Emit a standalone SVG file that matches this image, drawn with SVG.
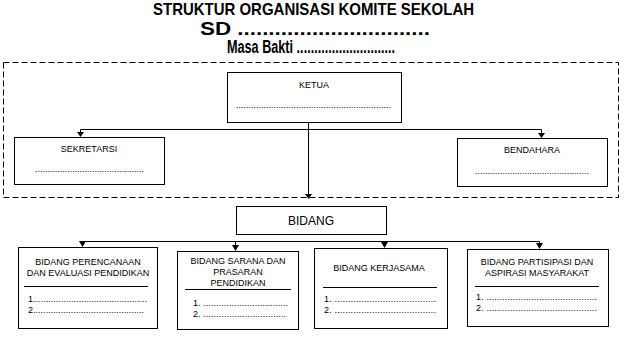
<svg xmlns="http://www.w3.org/2000/svg" width="627" height="337" viewBox="0 0 627 337">
<defs>
<style>
.box{fill:#fff;stroke:#000;stroke-width:1}
.t{font-family:"Liberation Sans",Arial,sans-serif;font-size:9px;fill:#000}
.d{font-family:"Liberation Sans",Arial,sans-serif;font-size:9px;fill:#000}
.c{text-anchor:middle}
.ln{stroke:#000;stroke-width:1;fill:none}
.title{font-family:"Liberation Sans",Arial,sans-serif;font-weight:bold;fill:#000}
.big{font-size:12px}
</style>
</defs>
<rect width="627" height="337" fill="#fff"/>
<g id="title">
<text class="title" x="153" y="15" style="font-size:17px" textLength="321" lengthAdjust="spacingAndGlyphs">STRUKTUR ORGANISASI KOMITE SEKOLAH</text>
<text class="title" x="200" y="35" style="font-size:18px" textLength="230" lengthAdjust="spacingAndGlyphs">SD ...............................</text>
<text class="title" x="227" y="53" style="font-size:18px" textLength="168" lengthAdjust="spacingAndGlyphs">Masa Bakti ............................</text>
</g>
<rect x="3.5" y="62.5" width="615" height="135" fill="none" stroke="#000" stroke-width="1" stroke-dasharray="6,3"/>
<g id="connectors">
<path class="ln" d="M308.5,123 V197"/>
<path d="M305,194 L312,194 L308.5,199 z" fill="#000"/>
<path class="ln" d="M80.5,129.5 H541.5 M80.5,129.5 V134 M541.5,129.5 V135"/>
<path d="M77,132 L84,132 L80.5,137 z" fill="#000"/>
<path d="M538,133 L545,133 L541.5,138 z" fill="#000"/>
<path class="ln" d="M82.5,241.5 H539.5 M82.5,241.5 V244 M235.5,241.5 V248 M384.5,241.5 V245 M539.5,241.5 V246"/>
<path d="M79,241 L86,241 L82.5,247 z" fill="#000"/>
<path d="M232,245 L239,245 L235.5,251 z" fill="#000"/>
<path d="M381,242 L388,242 L384.5,248 z" fill="#000"/>
<path d="M536,243 L543,243 L539.5,249 z" fill="#000"/>
</g>
<g id="ketua">
<rect class="box" x="227.5" y="72.5" width="174" height="50"/>
<text class="t c" x="314" y="88">KETUA</text>
<text class="d" x="236" y="108" textLength="155" lengthAdjust="spacing">..............................................................</text>
</g>
<g id="sekretarsi">
<rect class="box" x="14.5" y="137.5" width="150" height="47"/>
<text class="t c" x="89" y="152">SEKRETARSI</text>
<text class="d" x="35" y="172" textLength="109" lengthAdjust="spacing">............................................</text>
</g>
<g id="bendahara">
<rect class="box" x="457.5" y="138.5" width="150" height="48"/>
<text class="t c" x="532" y="153">BENDAHARA</text>
<text class="d" x="475" y="174" textLength="114" lengthAdjust="spacing">..............................................</text>
</g>
<g id="bidang">
<rect class="box" x="236.5" y="206.5" width="150" height="28"/>
<text class="t c big" x="311" y="225">BIDANG</text>
</g>
<g id="bidang1">
<rect class="box" x="18.5" y="247.5" width="139" height="81"/>
<text class="t c" x="88" y="265">BIDANG PERENCANAAN</text>
<text class="t c" x="88" y="276">DAN EVALUASI PENDIDIKAN</text>
<path class="ln" d="M24,286.5 H148"/>
<text class="d" x="28" y="302" textLength="119" lengthAdjust="spacing">1.............................................</text>
<text class="d" x="28" y="313" textLength="116" lengthAdjust="spacing">2............................................</text>
</g>
<g id="bidang2">
<rect class="box" x="177.5" y="251.5" width="121" height="78"/>
<text class="t c" x="238" y="264">BIDANG SARANA DAN</text>
<text class="t c" x="238" y="275">PRASARAN</text>
<text class="t c" x="238" y="286">PENDIDIKAN</text>
<path class="ln" d="M185,289.5 H291"/>
<text class="d" x="193" y="306" textLength="95" lengthAdjust="spacing">1. .................................</text>
<text class="d" x="193" y="317" textLength="93" lengthAdjust="spacing">2. ................................</text>
</g>
<g id="bidang3">
<rect class="box" x="314.5" y="248.5" width="133" height="80"/>
<text class="t c" x="379" y="271">BIDANG KERJASAMA</text>
<path class="ln" d="M323,287.5 H437"/>
<text class="d" x="324" y="302" textLength="112" lengthAdjust="spacing">1.  ......................................</text>
<text class="d" x="324" y="313" textLength="112" lengthAdjust="spacing">2.  ......................................</text>
</g>
<g id="bidang4">
<rect class="box" x="467.5" y="249.5" width="141" height="77"/>
<text class="t c" x="537" y="265">BIDANG PARTISIPASI DAN</text>
<text class="t c" x="537" y="276">ASPIRASI MASYARAKAT</text>
<path class="ln" d="M475,286.5 H599"/>
<text class="d" x="476" y="300" textLength="121" lengthAdjust="spacing">1.  ..........................................</text>
<text class="d" x="476" y="311" textLength="121" lengthAdjust="spacing">2.  ..........................................</text>
</g>
</svg>
